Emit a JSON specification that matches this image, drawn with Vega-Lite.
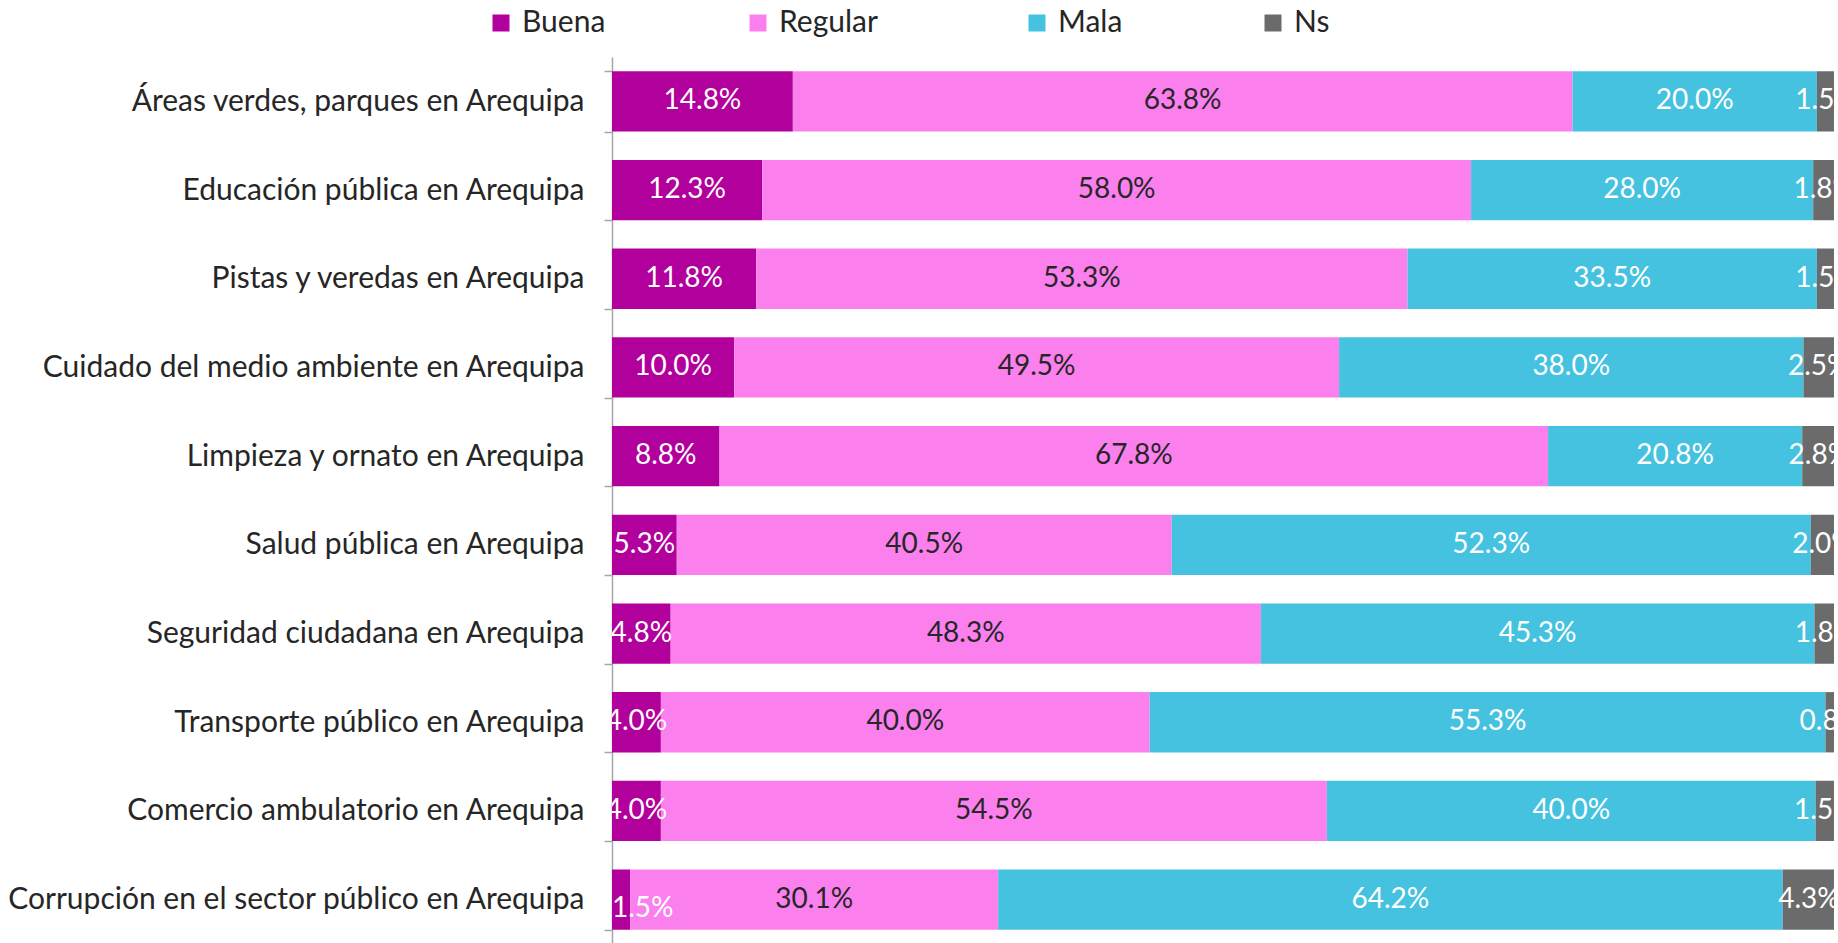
{
  "$schema": "https://vega.github.io/schema/vega-lite/v6.json",
  "autosize": {"type": "none"},
  "width": 1222,
  "height": 887,
  "padding": {"left": 612, "top": 57, "right": 4, "bottom": 0},
  "background": "white",
  "config": {
    "view": {"stroke": null},
    "font": "Lato",
    "legend": {
      "title": null,
      "orient": "none",
      "legendY": -49,
      "direction": "horizontal",
      "symbolType": "square",
      "symbolSize": 289,
      "symbolStrokeWidth": 0,
      "labelFont": "Lato",
      "labelFontSize": 30,
      "labelColor": "#262626",
      "labelOffset": 6
    }
  },
  "data": {
    "values": [
      {"cat": "Áreas verdes, parques en Arequipa", "resp": "Buena", "ord": 1, "v": 14.8, "label": "14.8%"},
      {"cat": "Áreas verdes, parques en Arequipa", "resp": "Regular", "ord": 2, "v": 63.8, "label": "63.8%"},
      {"cat": "Áreas verdes, parques en Arequipa", "resp": "Mala", "ord": 3, "v": 20.0, "label": "20.0%"},
      {"cat": "Áreas verdes, parques en Arequipa", "resp": "Ns", "ord": 4, "v": 1.5, "label": "1.5%"},
      {"cat": "Educación pública en Arequipa", "resp": "Buena", "ord": 1, "v": 12.3, "label": "12.3%"},
      {"cat": "Educación pública en Arequipa", "resp": "Regular", "ord": 2, "v": 58.0, "label": "58.0%"},
      {"cat": "Educación pública en Arequipa", "resp": "Mala", "ord": 3, "v": 28.0, "label": "28.0%"},
      {"cat": "Educación pública en Arequipa", "resp": "Ns", "ord": 4, "v": 1.8, "label": "1.8%"},
      {"cat": "Pistas y veredas en Arequipa", "resp": "Buena", "ord": 1, "v": 11.8, "label": "11.8%"},
      {"cat": "Pistas y veredas en Arequipa", "resp": "Regular", "ord": 2, "v": 53.3, "label": "53.3%"},
      {"cat": "Pistas y veredas en Arequipa", "resp": "Mala", "ord": 3, "v": 33.5, "label": "33.5%"},
      {"cat": "Pistas y veredas en Arequipa", "resp": "Ns", "ord": 4, "v": 1.5, "label": "1.5%"},
      {"cat": "Cuidado del medio ambiente en Arequipa", "resp": "Buena", "ord": 1, "v": 10.0, "label": "10.0%"},
      {"cat": "Cuidado del medio ambiente en Arequipa", "resp": "Regular", "ord": 2, "v": 49.5, "label": "49.5%"},
      {"cat": "Cuidado del medio ambiente en Arequipa", "resp": "Mala", "ord": 3, "v": 38.0, "label": "38.0%"},
      {"cat": "Cuidado del medio ambiente en Arequipa", "resp": "Ns", "ord": 4, "v": 2.5, "label": "2.5%"},
      {"cat": "Limpieza y ornato en Arequipa", "resp": "Buena", "ord": 1, "v": 8.8, "label": "8.8%"},
      {"cat": "Limpieza y ornato en Arequipa", "resp": "Regular", "ord": 2, "v": 67.8, "label": "67.8%"},
      {"cat": "Limpieza y ornato en Arequipa", "resp": "Mala", "ord": 3, "v": 20.8, "label": "20.8%"},
      {"cat": "Limpieza y ornato en Arequipa", "resp": "Ns", "ord": 4, "v": 2.8, "label": "2.8%"},
      {"cat": "Salud pública en Arequipa", "resp": "Buena", "ord": 1, "v": 5.3, "label": "5.3%"},
      {"cat": "Salud pública en Arequipa", "resp": "Regular", "ord": 2, "v": 40.5, "label": "40.5%"},
      {"cat": "Salud pública en Arequipa", "resp": "Mala", "ord": 3, "v": 52.3, "label": "52.3%"},
      {"cat": "Salud pública en Arequipa", "resp": "Ns", "ord": 4, "v": 2.0, "label": "2.0%"},
      {"cat": "Seguridad ciudadana en Arequipa", "resp": "Buena", "ord": 1, "v": 4.8, "label": "4.8%"},
      {"cat": "Seguridad ciudadana en Arequipa", "resp": "Regular", "ord": 2, "v": 48.3, "label": "48.3%"},
      {"cat": "Seguridad ciudadana en Arequipa", "resp": "Mala", "ord": 3, "v": 45.3, "label": "45.3%"},
      {"cat": "Seguridad ciudadana en Arequipa", "resp": "Ns", "ord": 4, "v": 1.8, "label": "1.8%"},
      {"cat": "Transporte público en Arequipa", "resp": "Buena", "ord": 1, "v": 4.0, "label": "4.0%"},
      {"cat": "Transporte público en Arequipa", "resp": "Regular", "ord": 2, "v": 40.0, "label": "40.0%"},
      {"cat": "Transporte público en Arequipa", "resp": "Mala", "ord": 3, "v": 55.3, "label": "55.3%"},
      {"cat": "Transporte público en Arequipa", "resp": "Ns", "ord": 4, "v": 0.8, "label": "0.8%"},
      {"cat": "Comercio ambulatorio en Arequipa", "resp": "Buena", "ord": 1, "v": 4.0, "label": "4.0%"},
      {"cat": "Comercio ambulatorio en Arequipa", "resp": "Regular", "ord": 2, "v": 54.5, "label": "54.5%"},
      {"cat": "Comercio ambulatorio en Arequipa", "resp": "Mala", "ord": 3, "v": 40.0, "label": "40.0%"},
      {"cat": "Comercio ambulatorio en Arequipa", "resp": "Ns", "ord": 4, "v": 1.5, "label": "1.5%"},
      {"cat": "Corrupción en el sector público en Arequipa", "resp": "Buena", "ord": 1, "v": 1.5, "label": "1.5%"},
      {"cat": "Corrupción en el sector público en Arequipa", "resp": "Regular", "ord": 2, "v": 30.1, "label": "30.1%"},
      {"cat": "Corrupción en el sector público en Arequipa", "resp": "Mala", "ord": 3, "v": 64.2, "label": "64.2%"},
      {"cat": "Corrupción en el sector público en Arequipa", "resp": "Ns", "ord": 4, "v": 4.3, "label": "4.3%"}
    ]
  },
  "transform": [
    {"stack": "v", "groupby": ["cat"], "sort": [{"field": "ord", "order": "ascending"}], "as": ["v0", "v1"]},
    {"calculate": "(datum.v0 + datum.v1) / 2", "as": "mid"}
  ],
  "encoding": {
    "y": {
      "field": "cat",
      "type": "nominal",
      "sort": null,
      "scale": {"paddingInner": 0.32, "paddingOuter": 0.16},
      "axis": {
        "title": null,
        "tickBand": "extent",
        "labelFont": "Lato",
        "labelFontSize": 30,
        "labelColor": "#262626",
        "labelPadding": 20,
        "labelLimit": 700,
        "tickSize": 8,
        "tickColor": "#A6A6A6",
        "tickWidth": 1.5,
        "domainColor": "#A6A6A6",
        "domainWidth": 1.5
      }
    },
    "x": {
      "field": "v0",
      "type": "quantitative",
      "scale": {"domain": [0, 100]},
      "axis": null
    },
    "x2": {"field": "v1"}
  },
  "layer": [
    {
      "transform": [{"filter": "datum.resp === 'Buena'"}],
      "mark": {"type": "bar", "clip": true},
      "encoding": {
        "color": {
          "field": "resp", "type": "nominal",
          "scale": {"domain": ["Buena"], "range": ["#B2009C"]},
          "legend": {"legendX": -126}
        }
      }
    },
    {
      "transform": [{"filter": "datum.resp === 'Regular'"}],
      "mark": {"type": "bar", "clip": true},
      "encoding": {
        "color": {
          "field": "resp", "type": "nominal",
          "scale": {"domain": ["Regular"], "range": ["#FB80EE"]},
          "legend": {"legendX": 131}
        }
      }
    },
    {
      "transform": [{"filter": "datum.resp === 'Mala'"}],
      "mark": {"type": "bar", "clip": true},
      "encoding": {
        "color": {
          "field": "resp", "type": "nominal",
          "scale": {"domain": ["Mala"], "range": ["#45C2E0"]},
          "legend": {"legendX": 410}
        }
      }
    },
    {
      "transform": [{"filter": "datum.resp === 'Ns'"}],
      "mark": {"type": "bar", "clip": true},
      "encoding": {
        "color": {
          "field": "resp", "type": "nominal",
          "scale": {"domain": ["Ns"], "range": ["#6B6B6B"]},
          "legend": {"legendX": 646}
        }
      }
    },
    {
      "transform": [{"filter": "!(datum.resp === 'Buena' && datum.v < 2)"}],
      "mark": {"type": "text", "clip": true, "fontSize": 28, "font": "Lato", "align": "center", "baseline": "middle"},
      "encoding": {
        "x": {"field": "mid", "type": "quantitative"},
        "x2": null,
        "text": {"field": "label"},
        "color": {
          "condition": {"test": "datum.resp === 'Regular'", "value": "#262626"},
          "value": "#FFFFFF"
        }
      }
    },
    {
      "transform": [{"filter": "datum.resp === 'Buena' && datum.v < 2"}],
      "mark": {"type": "text", "clip": true, "fontSize": 28, "font": "Lato", "align": "left", "baseline": "middle", "dy": 9, "color": "#FFFFFF"},
      "encoding": {
        "x2": null,
        "text": {"field": "label"}
      }
    }
  ],
  "resolve": {"scale": {"color": "independent"}, "legend": {"color": "independent"}}
}
